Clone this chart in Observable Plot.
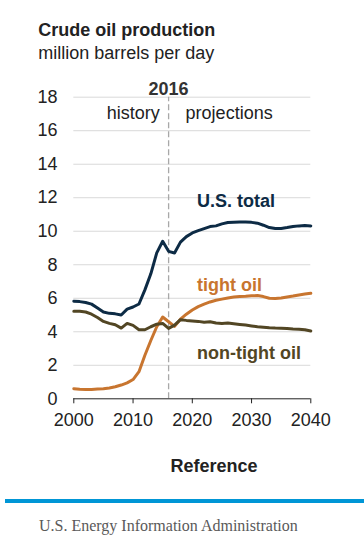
<!DOCTYPE html>
<html>
<head>
<meta charset="utf-8">
<script src="https://cdn.jsdelivr.net/npm/d3@7"></script>
<script src="https://cdn.jsdelivr.net/npm/@observablehq/plot@0.6"></script>
<style>
  html, body { margin: 0; padding: 0; background: #fff; }
  body { width: 364px; height: 551px; position: relative; overflow: hidden; font-family: "Liberation Sans", Arial, sans-serif; color: #222; }
  .t { position: absolute; line-height: 1; white-space: nowrap; }
  #chart { position: absolute; left: 0; top: 60px; }
</style>
</head>
<body>
<div class="t" style="left:38.3px; top:20.5px; font-size:18px; font-weight:bold;">Crude oil production</div>
<div class="t" style="left:38.3px; top:43.8px; font-size:18px;">million barrels per day</div>
<div id="chart"></div>
<div class="t" style="left:214px; top:456.5px; font-size:18px; font-weight:bold; transform:translateX(-50%);">Reference</div>
<div style="position:absolute; left:5px; top:498.5px; width:359px; height:4px; background:#0096d6;"></div>
<div class="t" style="left:39px; top:518.3px; font-size:16px; font-family:'Liberation Serif','Times New Roman',serif; color:#595959;">U.S. Energy Information Administration</div>
<script>
const years = d3.range(2000, 2041);
const usTotal = [5.82, 5.80, 5.75, 5.65, 5.42, 5.18, 5.10, 5.07, 5.00, 5.35,
  5.48, 5.66, 6.50, 7.46, 8.71, 9.40, 8.80, 8.70, 9.35, 9.68,
  9.90, 10.04, 10.16, 10.28, 10.32, 10.44, 10.52, 10.54, 10.55, 10.55,
  10.53, 10.48, 10.36, 10.22, 10.16, 10.17, 10.22, 10.28, 10.32, 10.34, 10.32];
const tightOil = [0.60, 0.57, 0.55, 0.56, 0.58, 0.60, 0.65, 0.72, 0.82, 0.95,
  1.15, 1.62, 2.60, 3.48, 4.30, 4.88, 4.60, 4.32, 4.75, 5.05,
  5.30, 5.50, 5.65, 5.78, 5.88, 5.95, 6.02, 6.07, 6.10, 6.12,
  6.15, 6.16, 6.10, 6.00, 5.98, 6.02, 6.08, 6.13, 6.20, 6.25, 6.30];
const nonTightOil = [5.22, 5.22, 5.18, 5.05, 4.85, 4.62, 4.50, 4.42, 4.22, 4.50,
  4.38, 4.12, 4.12, 4.30, 4.45, 4.50, 4.20, 4.40, 4.72, 4.68,
  4.65, 4.62, 4.57, 4.60, 4.52, 4.50, 4.52, 4.48, 4.44, 4.40,
  4.35, 4.30, 4.27, 4.24, 4.22, 4.21, 4.20, 4.17, 4.15, 4.12, 4.05];
const seriesNames = ["U.S. total", "tight oil", "non-tight oil"];
const seriesColors = ["#0d2b45", "#c8752f", "#524624"];
const labelYears = [2020.8, 2020.8, 2020.8];
const labelValues = [11.43, 6.43, 2.39];
const xTicks = [2000, 2010, 2020, 2030, 2040];
const yTicks = [0, 2, 4, 6, 8, 10, 12, 14, 16, 18];
const dividerYear = 2016;
const phaseLabels = ["history", "projections"];

const seriesValues = [usTotal, tightOil, nonTightOil];
const rows = seriesNames.flatMap((name, i) =>
  years.map((year, j) => ({series: name, year, value: seriesValues[i][j]})));
const labels = seriesNames.map((name, i) => ({series: name, year: labelYears[i], value: labelValues[i]}));

const plot = Plot.plot({
  width: 364,
  height: 380,
  marginLeft: 73.3,
  marginRight: 53.7,
  marginTop: 36.7,
  marginBottom: 41.7,
  style: {fontFamily: "'Liberation Sans', Arial, sans-serif", fontSize: "18px", color: "#222", background: "transparent"},
  x: {domain: [2000, 2040], ticks: xTicks, tickFormat: "d", tickSize: 5, tickPadding: 9.5, label: null},
  y: {domain: [0, 18], ticks: yTicks, tickSize: 0, tickPadding: 16.3, label: null},
  color: {domain: seriesNames, range: seriesColors},
  marks: [
    Plot.ruleY(yTicks.filter(d => d > 0), {stroke: "#d9d9d9", strokeWidth: 1}),
    Plot.ruleX([dividerYear], {y1: 0, y2: 18, stroke: "#a8a8a8", strokeWidth: 1.3, strokeDasharray: "6,3"}),
    Plot.line(rows, {x: "year", y: "value", z: "series", stroke: "series", strokeWidth: 3, strokeLinejoin: "round", strokeLinecap: "round"}),
    Plot.ruleY([0], {stroke: "#222", strokeWidth: 1}),
    Plot.axisX({ticks: xTicks, tickFormat: "d", tickSize: 5, tickPadding: 9.5, stroke: "#222", fill: "#222", fontSize: 18}),
    Plot.axisY({ticks: yTicks, tickSize: 0, tickPadding: 16.3, fill: "#222", fontSize: 18}),
    Plot.text([String(dividerYear)], {x: dividerYear, y: 18, text: d => d, dy: -2, lineAnchor: "bottom", fontWeight: "bold", fontSize: 18, fill: "#333"}),
    Plot.text([phaseLabels[0]], {x: dividerYear, y: 18, text: d => d, dx: -8.8, dy: 21.3, lineAnchor: "bottom", textAnchor: "end", fontSize: 18, fill: "#222"}),
    Plot.text([phaseLabels[1]], {x: dividerYear, y: 18, text: d => d, dx: 17, dy: 21.3, lineAnchor: "bottom", textAnchor: "start", fontSize: 18, fill: "#222"}),
    Plot.text(labels, {x: "year", y: "value", text: "series", fill: "series", lineAnchor: "bottom", textAnchor: "start", fontWeight: "bold", fontSize: 18})
  ]
});
document.getElementById("chart").appendChild(plot);
</script>
</body>
</html>
